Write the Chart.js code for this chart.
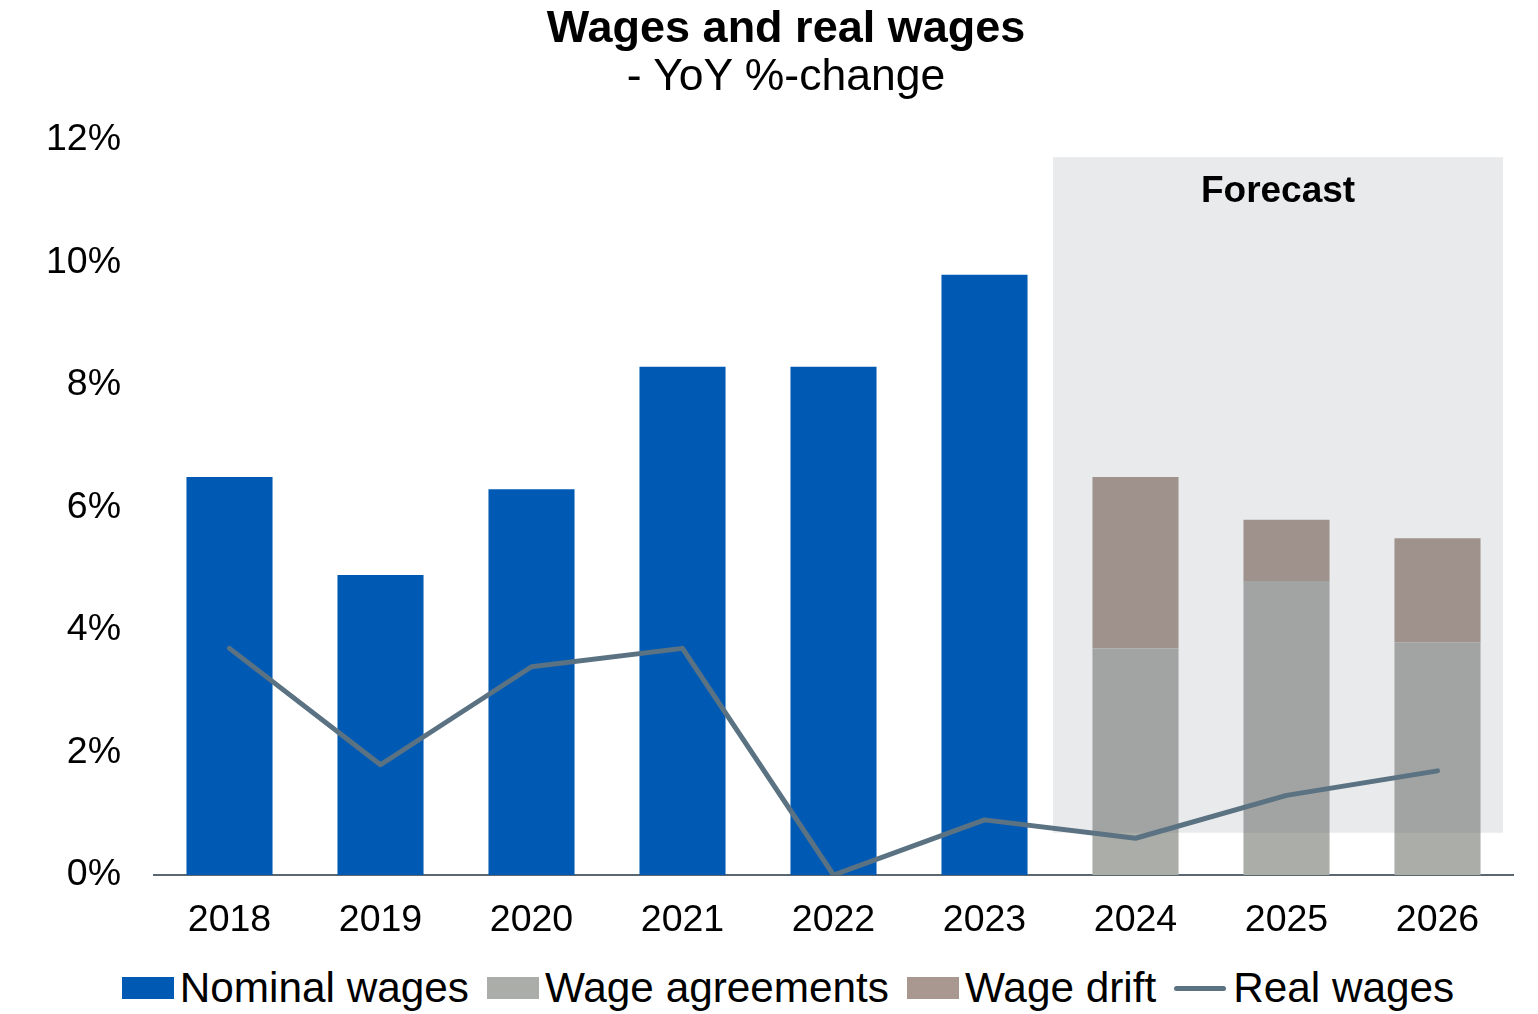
<!DOCTYPE html>
<html>
<head>
<meta charset="utf-8">
<script src="https://cdn.jsdelivr.net/npm/chart.js@4.4.1/dist/chart.umd.min.js"></script>
<style>
  body { margin: 0; background: #fff; font-family: "Liberation Sans", Arial, sans-serif; }
  #wrap { position: absolute; left: 0; top: 0; width: 1538px; height: 950px; }
  .head { position: absolute; left: 0; width: 1572px; text-align: center; line-height: 45px; color: #000; white-space: nowrap; }
  #title { top: 4px; font-size: 45px; font-weight: bold; }
  #subtitle { top: 52px; font-size: 44.5px; }
  #legend { position: absolute; left: 19px; top: 962px; width: 1538px; height: 52px;
            display: flex; justify-content: center; align-items: center; font-size: 42.3px; color: #000; }
  .item { display: flex; align-items: center; margin: 0 9px; white-space: nowrap; }
  .box { width: 52px; height: 22px; margin-right: 6px; }
  .ln { width: 52px; height: 5px; border-radius: 3px; margin-right: 7px; }
</style>
</head>
<body>
<div id="wrap"><canvas id="chart"></canvas></div>
<div class="head" id="title">Wages and real wages</div>
<div class="head" id="subtitle">- YoY %-change</div>
<div id="legend"></div>
<script>
// données
const years = ['2018', '2019', '2020', '2021', '2022', '2023', '2024', '2025', '2026'];
const nominalWages = [6.5, 4.9, 6.3, 8.3, 8.3, 9.8, null, null, null];
const wageAgreements = [null, null, null, null, null, null, 3.7, 4.8, 3.8];
const wageDrift = [null, null, null, null, null, null, 2.8, 1.0, 1.7];
const realWages = [3.7, 1.8, 3.4, 3.7, 0.0, 0.9, 0.6, 1.3, 1.7];
const yTicks = [0, 2, 4, 6, 8, 10, 12];

const FONT = '"Liberation Sans", Arial, sans-serif';
const colors = {
    nominal: '#005ab4',
    agreements: '#abada8',
    drift: '#a8988f',
    real: '#5b7283'
};

// zone "Forecast" dessinée sous la courbe mais au-dessus des barres
const forecastBand = {
    id: 'forecastBand',
    beforeDatasetDraw(chart, args) {
        if (args.meta.type !== 'line') return;
        const { ctx, scales: { x, y } } = chart;
        const step = x.getPixelForValue(1) - x.getPixelForValue(0);
        const left = x.getPixelForValue(6) - step * 0.546;
        const right = x.getPixelForValue(8) + step * 0.434;
        const top = y.getPixelForValue(11.72);
        const bottom = y.getPixelForValue(0.69);
        ctx.save();
        ctx.fillStyle = 'rgba(108,115,128,0.15)';
        ctx.fillRect(left, top, right - left, bottom - top);
        ctx.fillStyle = '#000';
        ctx.font = 'bold 37px ' + FONT;
        ctx.textAlign = 'center';
        ctx.textBaseline = 'middle';
        ctx.fillText('Forecast', (left + right) / 2, top + 35);
        ctx.restore();
    }
};

new Chart(document.getElementById('chart'), {
    type: 'bar',
    data: {
        labels: years,
        datasets: [
            {
                type: 'line', label: 'Real wages', data: realWages, order: 0, stack: 'real',
                borderColor: colors.real, borderWidth: 5, pointRadius: 0,
                borderCapStyle: 'round', borderJoinStyle: 'round', tension: 0
            },
            { label: 'Nominal wages', data: nominalWages, backgroundColor: colors.nominal, order: 1, stack: 'w' },
            { label: 'Wage agreements', data: wageAgreements, backgroundColor: colors.agreements, order: 1, stack: 'w' },
            { label: 'Wage drift', data: wageDrift, backgroundColor: colors.drift, order: 1, stack: 'w' }
        ]
    },
    options: {
        responsive: true,
        maintainAspectRatio: false,
        animation: false,
        categoryPercentage: 0.57,
        barPercentage: 1,
        layout: { padding: { left: 34, right: 25, top: 140, bottom: 0 } },
        plugins: {
            legend: { display: false },
            tooltip: { enabled: false }
        },
        scales: {
            x: {
                stacked: true,
                grid: { display: false, drawTicks: false },
                border: { display: true, color: '#5b6770', width: 2 },
                ticks: { color: '#000', font: { family: FONT, size: 37.5 }, padding: 23 },
                afterFit: s => { s.height = 75; }
            },
            y: {
                stacked: true,
                min: 0, max: 12,
                grid: { display: false, drawTicks: false },
                border: { display: false },
                afterBuildTicks: s => { s.ticks = yTicks.map(v => ({ value: v })); },
                ticks: { color: '#000', font: { family: FONT, size: 37.5 }, padding: 33, callback: v => v + '%' },
                afterFit: s => { s.width = 120; }
            }
        }
    },
    plugins: [forecastBand]
});

// légende HTML en bas
const legendItems = [
    { text: 'Nominal wages', color: colors.nominal, kind: 'box' },
    { text: 'Wage agreements', color: colors.agreements, kind: 'box' },
    { text: 'Wage drift', color: colors.drift, kind: 'box' },
    { text: 'Real wages', color: colors.real, kind: 'ln' }
];
const legend = document.getElementById('legend');
legendItems.forEach(it => {
    const item = document.createElement('div');
    item.className = 'item';
    const mark = document.createElement('span');
    mark.className = it.kind;
    mark.style.background = it.color;
    const txt = document.createElement('span');
    txt.textContent = it.text;
    item.appendChild(mark);
    item.appendChild(txt);
    legend.appendChild(item);
});
</script>
</body>
</html>
